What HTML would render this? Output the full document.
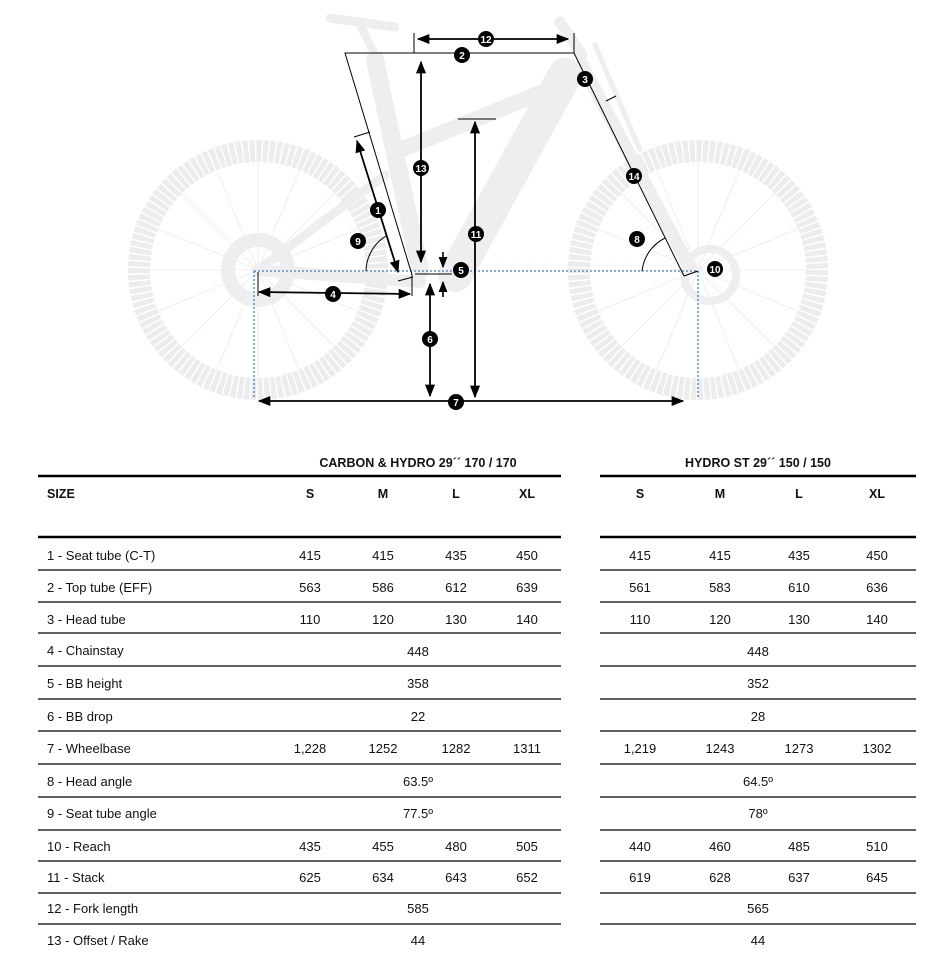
<!DOCTYPE html>
<html><head><meta charset="utf-8"><style>
html,body{margin:0;padding:0;background:#fff;}
svg{display:block;font-family:"Liberation Sans",Arial,sans-serif;}
</style></head><body>
<svg width="952" height="953" viewBox="0 0 952 953" xmlns="http://www.w3.org/2000/svg">
<defs>
<marker id="a" viewBox="0 0 10 10" refX="9" refY="5" markerWidth="7" markerHeight="7" orient="auto-start-reverse"><path d="M0,1 L10,5 L0,9 z" fill="#000"/></marker>
</defs>
<!-- bike silhouette -->
<g fill="none" stroke="#ececec">
<circle cx="258" cy="270" r="119" stroke-width="22" stroke-dasharray="5,1.5"/>
<circle cx="698" cy="270" r="119" stroke-width="22" stroke-dasharray="5,1.5"/>
</g>
<g stroke="#efefef" stroke-width="1">
<line x1="258" y1="160" x2="258" y2="380"/><line x1="148" y1="270" x2="368" y2="270"/>
<line x1="180" y1="192" x2="336" y2="348"/><line x1="180" y1="348" x2="336" y2="192"/>
<line x1="216" y1="168" x2="300" y2="372"/><line x1="300" y1="168" x2="216" y2="372"/>
<line x1="156" y1="228" x2="360" y2="312"/><line x1="156" y1="312" x2="360" y2="228"/>
<line x1="698" y1="160" x2="698" y2="380"/><line x1="588" y1="270" x2="808" y2="270"/>
<line x1="620" y1="192" x2="776" y2="348"/><line x1="620" y1="348" x2="776" y2="192"/>
<line x1="656" y1="168" x2="740" y2="372"/><line x1="740" y1="168" x2="656" y2="372"/>
<line x1="596" y1="228" x2="800" y2="312"/><line x1="596" y1="312" x2="800" y2="228"/>
</g>
<g stroke="#eeeeee" stroke-linecap="round" fill="none">
<line x1="565" y1="75" x2="455" y2="275" stroke-width="34"/>
<line x1="560" y1="85" x2="400" y2="150" stroke-width="16"/>
<line x1="375" y1="60" x2="420" y2="270" stroke-width="18"/>
<line x1="582" y1="65" x2="690" y2="268" stroke-width="13"/>
<line x1="258" y1="270" x2="420" y2="282" stroke-width="12"/>
<line x1="258" y1="270" x2="385" y2="175" stroke-width="9"/>
<line x1="330" y1="18" x2="395" y2="27" stroke-width="9"/>
<line x1="360" y1="25" x2="378" y2="60" stroke-width="8"/>
<line x1="560" y1="22" x2="582" y2="55" stroke-width="11"/>
<line x1="595" y1="45" x2="640" y2="150" stroke-width="5"/>
<circle cx="258" cy="270" r="30" stroke-width="14"/>
<circle cx="710" cy="275" r="26" stroke-width="8"/>
</g>
<!-- dotted blue -->
<g stroke="#3a7fd0" stroke-width="1.3" stroke-dasharray="2,2" fill="none">
<line x1="254" y1="271" x2="698" y2="271"/>
<line x1="254" y1="271" x2="254" y2="398"/>
<line x1="698" y1="271" x2="698" y2="398"/>
</g>
<!-- dimension lines -->
<g stroke="#000" stroke-width="1" fill="none">
<polyline points="574,53 345,53 412,275 412,296"/>
<line x1="414" y1="33" x2="414" y2="53"/><line x1="574" y1="33" x2="574" y2="53"/>
<line x1="574" y1="53" x2="684" y2="276"/>
<line x1="684" y1="276" x2="698" y2="271"/>
<line x1="606" y1="101" x2="616" y2="96"/>
<line x1="354" y1="137" x2="370" y2="132"/>
<line x1="398" y1="281" x2="413" y2="277"/>
<line x1="415" y1="274" x2="452" y2="274"/>
<line x1="458" y1="119" x2="496" y2="119"/>
<line x1="258" y1="272" x2="258" y2="296"/>
<path d="M366,271 A42,42 0 0 1 386,236"/>
<path d="M642,271 A42,42 0 0 1 665,238"/>
</g>
<g stroke="#000" stroke-width="1.8" fill="none" marker-start="url(#a)" marker-end="url(#a)">
<line x1="418" y1="39" x2="568" y2="39"/>
<line x1="357" y1="141" x2="398" y2="272"/>
<line x1="421" y1="62" x2="421" y2="262"/>
<line x1="475" y1="122" x2="475" y2="397"/>
<line x1="430" y1="284" x2="430" y2="396"/>
<line x1="259" y1="292" x2="410" y2="294"/>
<line x1="259" y1="401" x2="683" y2="401"/>
</g>
<g stroke="#000" stroke-width="1.6" fill="none" marker-end="url(#a)">
<line x1="443" y1="252" x2="443" y2="267"/>
<line x1="443" y1="297" x2="443" y2="282"/>
</g>
<g font-size="10" font-weight="bold" fill="#fff" text-anchor="middle">
<circle cx="486" cy="39" r="8" fill="#000"/><text x="486" y="43">12</text>
<circle cx="462" cy="55" r="8" fill="#000"/><text x="462" y="59">2</text>
<circle cx="585" cy="79" r="8" fill="#000"/><text x="585" y="83">3</text>
<circle cx="634" cy="176" r="8" fill="#000"/><text x="634" y="180">14</text>
<circle cx="421" cy="168" r="8" fill="#000"/><text x="421" y="172">13</text>
<circle cx="378" cy="210" r="8" fill="#000"/><text x="378" y="214">1</text>
<circle cx="358" cy="241" r="8" fill="#000"/><text x="358" y="245">9</text>
<circle cx="476" cy="234" r="8" fill="#000"/><text x="476" y="238">11</text>
<circle cx="461" cy="270" r="8" fill="#000"/><text x="461" y="274">5</text>
<circle cx="637" cy="239" r="8" fill="#000"/><text x="637" y="243">8</text>
<circle cx="715" cy="269" r="8" fill="#000"/><text x="715" y="273">10</text>
<circle cx="333" cy="294" r="8" fill="#000"/><text x="333" y="298">4</text>
<circle cx="430" cy="339" r="8" fill="#000"/><text x="430" y="343">6</text>
<circle cx="456" cy="402" r="8" fill="#000"/><text x="456" y="406">7</text>
</g>
<!-- tables -->
<g stroke="#000">
<line x1="38" y1="476" x2="561" y2="476" stroke-width="2.5"/>
<line x1="600" y1="476" x2="916" y2="476" stroke-width="2.5"/>
<line x1="38" y1="537" x2="561" y2="537" stroke-width="2.5"/>
<line x1="600" y1="537" x2="916" y2="537" stroke-width="2.5"/>
<g stroke-width="1.2">
<line x1="38" y1="570" x2="561" y2="570"/><line x1="600" y1="570" x2="916" y2="570"/>
<line x1="38" y1="602" x2="561" y2="602"/><line x1="600" y1="602" x2="916" y2="602"/>
<line x1="38" y1="633" x2="561" y2="633"/><line x1="600" y1="633" x2="916" y2="633"/>
<line x1="38" y1="666" x2="561" y2="666"/><line x1="600" y1="666" x2="916" y2="666"/>
<line x1="38" y1="699" x2="561" y2="699"/><line x1="600" y1="699" x2="916" y2="699"/>
<line x1="38" y1="731" x2="561" y2="731"/><line x1="600" y1="731" x2="916" y2="731"/>
<line x1="38" y1="764" x2="561" y2="764"/><line x1="600" y1="764" x2="916" y2="764"/>
<line x1="38" y1="797" x2="561" y2="797"/><line x1="600" y1="797" x2="916" y2="797"/>
<line x1="38" y1="830" x2="561" y2="830"/><line x1="600" y1="830" x2="916" y2="830"/>
<line x1="38" y1="861" x2="561" y2="861"/><line x1="600" y1="861" x2="916" y2="861"/>
<line x1="38" y1="893" x2="561" y2="893"/><line x1="600" y1="893" x2="916" y2="893"/>
<line x1="38" y1="924" x2="561" y2="924"/><line x1="600" y1="924" x2="916" y2="924"/>
</g></g>
<g font-size="12.5" font-weight="bold" fill="#111" text-anchor="middle">
<text x="418" y="467">CARBON &amp; HYDRO 29´´ 170 / 170</text>
<text x="758" y="467">HYDRO ST 29´´ 150 / 150</text>
<text x="47" y="498" text-anchor="start">SIZE</text>
<text x="310" y="498">S</text><text x="383" y="498">M</text><text x="456" y="498">L</text><text x="527" y="498">XL</text>
<text x="640" y="498">S</text><text x="720" y="498">M</text><text x="799" y="498">L</text><text x="877" y="498">XL</text>
</g>
<g font-size="13" fill="#111">
<text x="47" y="560">1 - Seat tube (C-T)</text>
<text x="47" y="592">2 - Top tube (EFF)</text>
<text x="47" y="624">3 - Head tube</text>
<text x="47" y="655">4 - Chainstay</text>
<text x="47" y="688">5 - BB height</text>
<text x="47" y="721">6 - BB drop</text>
<text x="47" y="753">7 - Wheelbase</text>
<text x="47" y="786">8 - Head angle</text>
<text x="47" y="818">9 - Seat tube angle</text>
<text x="47" y="851">10 - Reach</text>
<text x="47" y="882">11 - Stack</text>
<text x="47" y="913">12 - Fork length</text>
<text x="47" y="945">13 - Offset / Rake</text>
</g>
<g font-size="13" fill="#111" text-anchor="middle">
<text x="310" y="560">415</text><text x="383" y="560">415</text><text x="456" y="560">435</text><text x="527" y="560">450</text>
<text x="640" y="560">415</text><text x="720" y="560">415</text><text x="799" y="560">435</text><text x="877" y="560">450</text>
<text x="310" y="592">563</text><text x="383" y="592">586</text><text x="456" y="592">612</text><text x="527" y="592">639</text>
<text x="640" y="592">561</text><text x="720" y="592">583</text><text x="799" y="592">610</text><text x="877" y="592">636</text>
<text x="310" y="624">110</text><text x="383" y="624">120</text><text x="456" y="624">130</text><text x="527" y="624">140</text>
<text x="640" y="624">110</text><text x="720" y="624">120</text><text x="799" y="624">130</text><text x="877" y="624">140</text>
<text x="418" y="656">448</text><text x="758" y="656">448</text>
<text x="418" y="688">358</text><text x="758" y="688">352</text>
<text x="418" y="721">22</text><text x="758" y="721">28</text>
<text x="310" y="753">1,228</text><text x="383" y="753">1252</text><text x="456" y="753">1282</text><text x="527" y="753">1311</text>
<text x="640" y="753">1,219</text><text x="720" y="753">1243</text><text x="799" y="753">1273</text><text x="877" y="753">1302</text>
<text x="418" y="786">63.5º</text><text x="758" y="786">64.5º</text>
<text x="418" y="818">77.5º</text><text x="758" y="818">78º</text>
<text x="310" y="851">435</text><text x="383" y="851">455</text><text x="456" y="851">480</text><text x="527" y="851">505</text>
<text x="640" y="851">440</text><text x="720" y="851">460</text><text x="799" y="851">485</text><text x="877" y="851">510</text>
<text x="310" y="882">625</text><text x="383" y="882">634</text><text x="456" y="882">643</text><text x="527" y="882">652</text>
<text x="640" y="882">619</text><text x="720" y="882">628</text><text x="799" y="882">637</text><text x="877" y="882">645</text>
<text x="418" y="913">585</text><text x="758" y="913">565</text>
<text x="418" y="945">44</text><text x="758" y="945">44</text>
</g>
</svg>
</body></html>
